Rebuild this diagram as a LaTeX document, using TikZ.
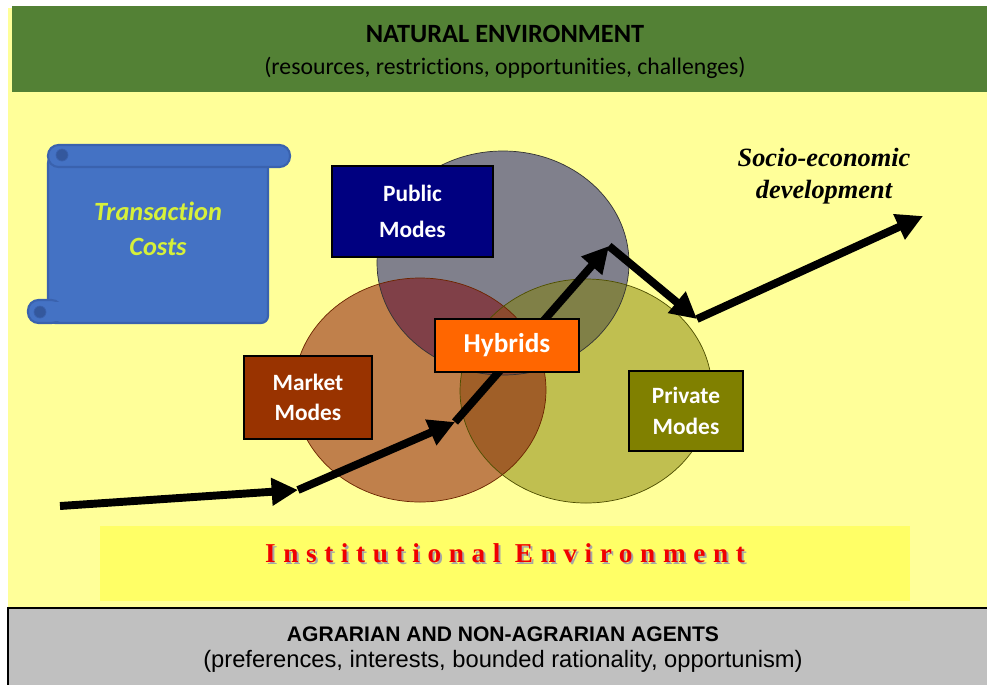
\documentclass[tikz,border=0pt]{standalone}
\usepackage{fontspec}
\setmainfont{Carlito}[Ligatures=NoCommon]
\newfontfamily\arialfont{Liberation Sans}
\newfontfamily\timesfont{Liberation Serif}
\newfontfamily\spacedtimes[LetterSpace=28]{Liberation Serif}
\usetikzlibrary{arrows.meta}

\definecolor{paleyellow}{HTML}{FFFF99}
\definecolor{instyellow}{HTML}{FFFF66}
\definecolor{natgreen}{HTML}{538135}
\definecolor{agentgray}{HTML}{C0C0C0}
\definecolor{scrollblue}{HTML}{4472C4}
\definecolor{scrolledge}{HTML}{3A62AE}
\definecolor{tcgreen}{HTML}{D6F03A}
\definecolor{pubfill}{HTML}{80808C}
\definecolor{mktfill}{HTML}{C0804B}
\definecolor{prvfill}{HTML}{C0BF50}
\definecolor{pmfill}{HTML}{804048}
\definecolor{pvfill}{HTML}{808047}
\definecolor{mvfill}{HTML}{A05F28}
\definecolor{pmvfill}{HTML}{8C4A2E}
\definecolor{pubbox}{HTML}{000080}
\definecolor{mktbox}{HTML}{993300}
\definecolor{prvbox}{HTML}{808000}
\definecolor{hybbox}{HTML}{FF6600}
\definecolor{instred}{HTML}{F00000}

\tikzset{
  modebox/.style={draw=black, line width=1pt, text=white, align=center,
    inner sep=0pt, font=\bfseries\fontsize{13.3}{18}\selectfont},
  growth/.style={line width=4.5pt, -{Triangle[length=15pt,width=15pt]}},
  vennedge/.style={line width=0.4pt}
}

\begin{document}
\begin{tikzpicture}[x=0.02cm, y=-0.02cm]
		%%%%% START %%%%%
		\useasboundingbox (0,0) rectangle (987,684);
		\fill[white] (0,0) rectangle (987,684);
		\fill[paleyellow] (8,8) rectangle (987,608);
		
		% natural environment
		\fill[natgreen] (12,6) rectangle (987,92);
		\node (nattitle) at (505,34) {\bfseries\fontsize{15}{18}\selectfont NATURAL ENVIRONMENT};
		\node (natsub) at (505,68) {\fontsize{13.5}{16}\selectfont (resources, restrictions, opportunities, challenges)};
		
		% agents
		\draw[fill=agentgray, line width=0.8pt] (8,608) rectangle (990,690);
		\node (agtitle) at (503,634) {\arialfont\bfseries\fontsize{12}{14}\selectfont AGRARIAN AND NON-AGRARIAN AGENTS};
		\node (agsub) at (503,661) {\arialfont\fontsize{13.5}{16}\selectfont (preferences, interests, bounded rationality, opportunism)};
		
		% institutional environment
		\fill[instyellow] (100,526) rectangle (910,601);
		\node[text=black!35] (instshadow) at (507,555) {\spacedtimes\bfseries\fontsize{15.5}{18}\selectfont Institutional Environment};
		\node[text=instred] (insttext) at (505,553) {\spacedtimes\bfseries\fontsize{15.5}{18}\selectfont Institutional Environment};
		
		% scroll
		\draw[fill=scrollblue, draw=scrolledge, line width=1.2pt, rounded corners=4pt] (48,156) -- (268,156) -- (268,323) -- (48,323) -- cycle;
		\draw[fill=scrollblue, draw=scrolledge, line width=1.2pt, rounded corners=6pt] (48,145) rectangle (290,167);
		\draw[fill=scrolledge!90!black, draw=scrolledge] (62,155) circle (6);
		\draw[fill=scrollblue, draw=scrolledge, line width=1.2pt, rounded corners=6pt] (28,300) rectangle (62,323);
		\draw[fill=scrolledge!90!black, draw=scrolledge] (40,312) circle (6);
		\fill[scrollblue] (50,302) rectangle (64,321);
		\node[text=tcgreen, align=center, font=\bfseries\itshape\fontsize{15}{20}\selectfont] (tc) at (158,229) {Transaction\\Costs};
		
		% venn
		\coordinate (pubc) at (503,263);
		\coordinate (mktc) at (420,390);
		\coordinate (prvc) at (586,391);
		\fill[pubfill] (pubc) ellipse [x radius=126, y radius=112];
		\fill[mktfill] (mktc) ellipse [x radius=126, y radius=112];
		\fill[prvfill] (prvc) ellipse [x radius=126, y radius=112];
		\begin{scope}
			\clip (pubc) ellipse [x radius=126, y radius=112];
			\fill[pmfill] (mktc) ellipse [x radius=126, y radius=112];
			\fill[pvfill] (prvc) ellipse [x radius=126, y radius=112];
		\end{scope}
		\begin{scope}
			\clip (mktc) ellipse [x radius=126, y radius=112];
			\fill[mvfill] (prvc) ellipse [x radius=126, y radius=112];
			\clip (pubc) ellipse [x radius=126, y radius=112];
			\fill[pmvfill] (prvc) ellipse [x radius=126, y radius=112];
		\end{scope}
		\draw[vennedge, draw=black!80] (pubc) ellipse [x radius=126, y radius=112];
		\draw[vennedge, draw=mktbox!70!black] (mktc) ellipse [x radius=126, y radius=112];
		\draw[vennedge, draw=prvbox!60!black] (prvc) ellipse [x radius=126, y radius=112];
		
		% development path
		\coordinate (d0) at (60,506);
		\coordinate (d1) at (298,490);
		\coordinate (d2) at (455,422);
		\coordinate (d3) at (609,246);
		\coordinate (d4) at (697,319);
		\coordinate (d5) at (923,216);
		\draw[growth] (d0) -- (d1);
		\draw[growth] (d1) -- (d2);
		\draw[growth] (d2) -- (d3);
		\draw[growth] (d3) -- (d4);
		\draw[growth] (d4) -- (d5);
		
		% modes
		\node[modebox, fill=pubbox, minimum width=3.22cm, minimum height=1.82cm, font=\bfseries\fontsize{13.3}{20.5}\selectfont] (public) at (412.5,211.5) {Public\\Modes};
		\node[modebox, fill=mktbox, minimum width=2.56cm, minimum height=1.66cm, font=\bfseries\fontsize{13.3}{17}\selectfont] (market) at (308,397.5) {Market\\Modes};
		\node[modebox, fill=prvbox, minimum width=2.28cm, minimum height=1.6cm, font=\bfseries\fontsize{13.3}{17.5}\selectfont] (private) at (686,411) {Private\\Modes};
		\node[modebox, fill=hybbox, minimum width=2.88cm, minimum height=1.06cm, font=\bfseries\fontsize{15.5}{18}\selectfont] (hybrids) at (507,345.5) {Hybrids};
		
		\node[align=center, font=\timesfont\bfseries\itshape\fontsize{15}{18}\selectfont] (socio) at (824,176) {Socio-economic\\development};
		%%%%% END %%%%%
\end{tikzpicture}
\end{document}
